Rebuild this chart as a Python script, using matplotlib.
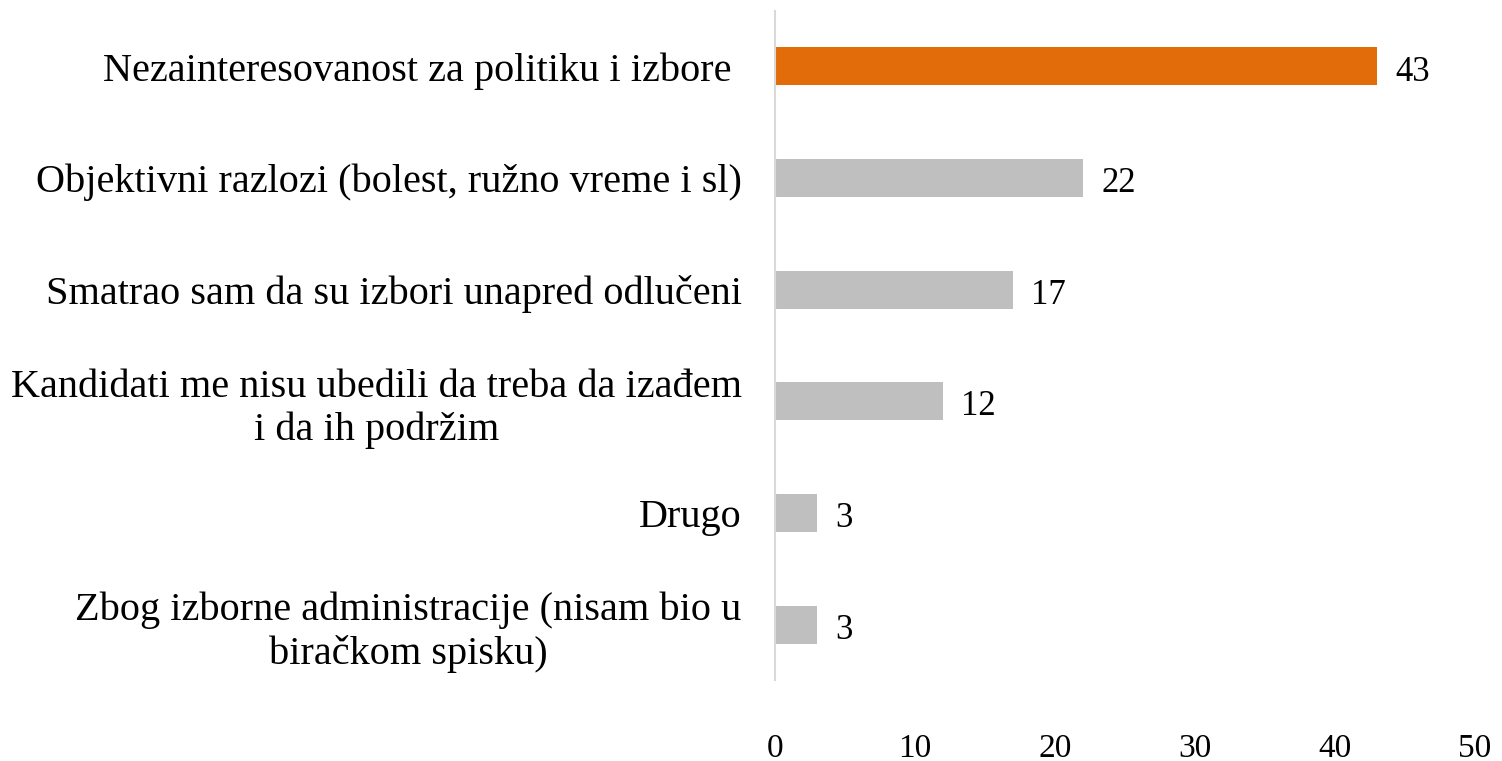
import matplotlib
matplotlib.use("Agg")
import matplotlib.pyplot as plt

categories = [
    "Nezainteresovanost za politiku i izbore ",
    "Objektivni razlozi (bolest, ružno vreme i sl)",
    "Smatrao sam da su izbori unapred odlučeni",
    "Kandidati me nisu ubedili da treba da izađem\ni da ih podržim",
    "Drugo",
    "Zbog izborne administracije (nisam bio u\nbiračkom spisku)",
]
values = [43, 22, 17, 12, 3, 3]
xticks = [0, 10, 20, 30, 40, 50]

plt.rcParams['font.family'] = ['Liberation Serif', 'DejaVu Serif']

fig = plt.figure(figsize=(15.02, 7.61), dpi=100)
ax = fig.add_axes([0.516, 0.106, 0.466, 0.88])

colors = ["#E36C0A"] + ["#BFBFBF"] * (len(values) - 1)
ypos = list(range(len(values)))
ax.barh(ypos, values, height=0.34, color=colors)
for y, v in zip(ypos, values):
    ax.text(v + 1.3, y + 0.05, str(v), va="center", ha="left", fontsize=25)

ax.set_xlim(0, 50)
ax.set_ylim(len(values) - 0.5, -0.5)
ax.set_yticks(ypos)
ax.set_yticklabels(categories, fontsize=29, ha="right", multialignment="center")
ax.set_xticks(xticks)
ax.set_xticklabels([str(t) for t in xticks], fontsize=24)
ax.tick_params(axis="x", length=0, pad=38)
ax.tick_params(axis="y", length=0, pad=24)
for s in ["top", "right", "bottom"]:
    ax.spines[s].set_visible(False)
ax.spines["left"].set_color("#D9D9D9")
ax.spines["left"].set_linewidth(1.5)

fig.savefig("out.png", dpi=100)
